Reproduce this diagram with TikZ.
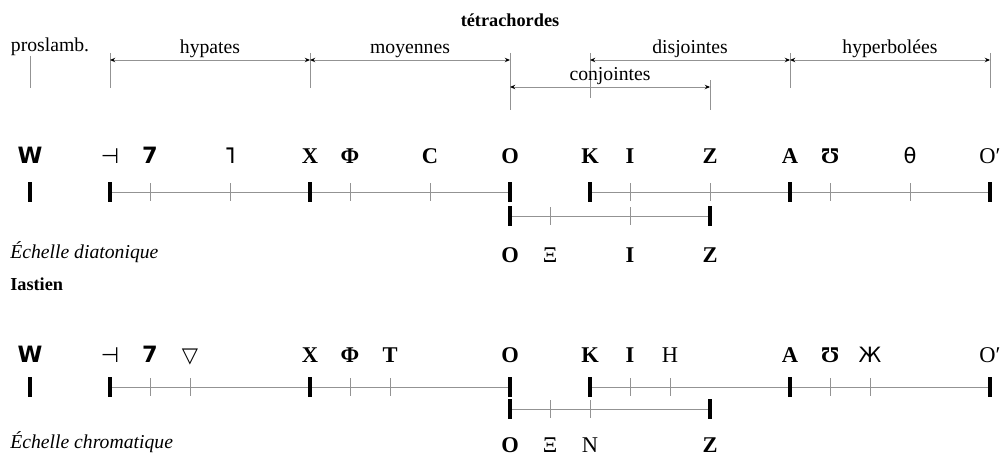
\documentclass[tikz,border=0pt]{standalone}
\usepackage{fontspec}
\setmainfont{Liberation Serif}
\newfontfamily\signfont{DejaVu Sans}
\usetikzlibrary{arrows.meta}

\tikzset{
  note/.style={anchor=base, inner sep=0pt, font=\fontsize{16}{18}\selectfont\bfseries},
  plainnote/.style={anchor=base, inner sep=0pt, font=\fontsize{16}{18}\selectfont},
  boldsign/.style={anchor=base, inner sep=0pt, font=\fontsize{16}{18}\selectfont\signfont\bfseries},
  thinsign/.style={anchor=base, inner sep=0pt, font=\fontsize{15}{18}\selectfont\signfont},
  toptext/.style={font=\fontsize{14}{16}\selectfont, inner sep=1pt},
  sidetext/.style={anchor=base west, inner sep=0pt, font=\fontsize{14}{16}\selectfont\itshape},
  guide/.style={draw=gray!85, line width=0.6pt},
  span/.style={draw=gray!85, line width=0.6pt, {Stealth[length=1.3mm,width=1.1mm,black]}-{Stealth[length=1.3mm,width=1.1mm,black]}},
  scaleline/.style={draw=gray!85, line width=0.6pt},
  fixtick/.style={line width=2.5pt, black},
  movetick/.style={draw=gray!85, line width=0.6pt}
}

\begin{document}
\begin{tikzpicture}
\useasboundingbox (0,0) rectangle (25.125,-11.375);

% tetrachord brackets
\node [anchor=base, inner sep=0pt, font=\fontsize{13}{15}\selectfont\bfseries] (tetra) at (12.75,-0.675) {tétrachordes};
\node [anchor=base, inner sep=0pt, font=\fontsize{14}{16}\selectfont] (prosl) at (1.25,-1.3) {proslamb.};

\foreach \k in {2,7,12,14,19,24}
  \coordinate (h\k) at (0.75+\k,-1.5);
\foreach \k in {12,17}
  \coordinate (j\k) at (0.75+\k,-2.175);

\draw [guide] (0.75,-1.4) -- (0.75,-2.2);
\foreach \k in {2,7,19,24}
  \draw [guide] ([yshift=0.175cm]h\k) -- ([yshift=-0.7cm]h\k);
\draw [guide] ([yshift=0.175cm]h12) -- ([yshift=-1.25cm]h12);
\draw [guide] ([yshift=0.175cm]h14) -- ([yshift=-0.95cm]h14);
\draw [guide] ([yshift=0.175cm]j17) -- ([yshift=-0.575cm]j17);

\draw [span] (h2) -- node [toptext, above] (hyp) {hypates} (h7);
\draw [span] (h7) -- node [toptext, above] (moy) {moyennes} (h12);
\draw [span] (h14) -- node [toptext, above] (dis) {disjointes} (h19);
\draw [span] (h19) -- node [toptext, above] (hyper) {hyperbolées} (h24);
\draw [span] (j12) -- node [toptext, above] (conj) {conjointes} (j17);

% diatonic scale
\foreach \k in {0,...,24} {
  \coordinate (d\k) at (0.75+\k,-4.8);
  \coordinate (e\k) at (0.75+\k,-5.4);
}
\draw [scaleline] (d2) -- (d12);
\draw [scaleline] (d14) -- (d24);
\draw [scaleline] (e12) -- (e17);
\foreach \k in {3,5,8,10,15,17,20,22}
  \draw [movetick] ([yshift=0.22cm]d\k) -- ([yshift=-0.22cm]d\k);
\foreach \k in {13,15}
  \draw [movetick] ([yshift=0.22cm]e\k) -- ([yshift=-0.22cm]e\k);
\foreach \k in {0,2,7,12,14,19,24}
  \draw [fixtick] ([yshift=0.24cm]d\k) -- ([yshift=-0.24cm]d\k);
\foreach \k in {12,17}
  \draw [fixtick] ([yshift=0.24cm]e\k) -- ([yshift=-0.24cm]e\k);

\node [boldsign] (dW) at (0.75,-4.075) {W};
\node [thinsign] (dhyp) at (2.75,-4.075) {⊣};
\node [boldsign] (dpar) at (3.75,-4.075) {7};
\node [boldsign] (dlic) at (5.75,-4.075) {˥};
\node [note] (dX) at (7.75,-4.075) {X};
\node [note] (dPhi) at (8.75,-4.075) {Φ};
\node [note] (dC) at (10.75,-4.075) {C};
\node [note] (dO) at (12.75,-4.075) {O};
\node [note] (dK) at (14.75,-4.075) {K};
\node [note] (dI) at (15.75,-4.075) {I};
\node [note] (dZ) at (17.75,-4.075) {Z};
\node [note] (dA) at (19.75,-4.075) {A};
\node [note] (dU) at (20.75,-4.075) {Ʊ};
\node [thinsign] (dth) at (22.75,-4.075) {θ};
\node [plainnote] (dOp) at (24.75,-4.075) {O′};

\node [note] (eO) at (12.75,-6.55) {O};
\node [plainnote] (eXi) at (13.75,-6.55) {Ξ};
\node [note] (eI) at (15.75,-6.55) {I};
\node [note] (eZ) at (17.75,-6.55) {Z};

\node [sidetext] (diat) at (0.25,-6.45) {Échelle diatonique};
\node [anchor=base west, inner sep=0pt, font=\fontsize{13}{15}\selectfont\bfseries] (iast) at (0.25,-7.25) {Iastien};

% chromatic scale
\foreach \k in {0,...,24} {
  \coordinate (c\k) at (0.75+\k,-9.675);
  \coordinate (f\k) at (0.75+\k,-10.225);
}
\draw [scaleline] (c2) -- (c12);
\draw [scaleline] (c14) -- (c24);
\draw [scaleline] (f12) -- (f17);
\foreach \k in {3,4,8,9,15,16,20,21}
  \draw [movetick] ([yshift=0.22cm]c\k) -- ([yshift=-0.22cm]c\k);
\foreach \k in {13,14}
  \draw [movetick] ([yshift=0.22cm]f\k) -- ([yshift=-0.22cm]f\k);
\foreach \k in {0,2,7,12,14,19,24}
  \draw [fixtick] ([yshift=0.24cm]c\k) -- ([yshift=-0.24cm]c\k);
\foreach \k in {12,17}
  \draw [fixtick] ([yshift=0.24cm]f\k) -- ([yshift=-0.24cm]f\k);

\node [boldsign] (cW) at (0.75,-9.05) {W};
\node [thinsign] (chyp) at (2.75,-9.05) {⊣};
\node [boldsign] (cpar) at (3.75,-9.05) {7};
\node [thinsign] (ctri) at (4.75,-9.05) {▽};
\node [note] (cX) at (7.75,-9.05) {X};
\node [note] (cPhi) at (8.75,-9.05) {Φ};
\node [note] (cT) at (9.75,-9.05) {T};
\node [note] (cO) at (12.75,-9.05) {O};
\node [note] (cK) at (14.75,-9.05) {K};
\node [note] (cI) at (15.75,-9.05) {I};
\node [plainnote] (cH) at (16.75,-9.05) {H};
\node [note] (cA) at (19.75,-9.05) {A};
\node [note] (cU) at (20.75,-9.05) {Ʊ};
\node [thinsign] (czh) at (21.75,-9.05) {Ж};
\node [plainnote] (cOp) at (24.75,-9.05) {O′};

\node [note] (fO) at (12.75,-11.3) {O};
\node [plainnote] (fXi) at (13.75,-11.3) {Ξ};
\node [plainnote] (fN) at (14.75,-11.3) {N};
\node [note] (fZ) at (17.75,-11.3) {Z};

\node [sidetext] (chrom) at (0.25,-11.2) {Échelle chromatique};

\end{tikzpicture}
\end{document}
